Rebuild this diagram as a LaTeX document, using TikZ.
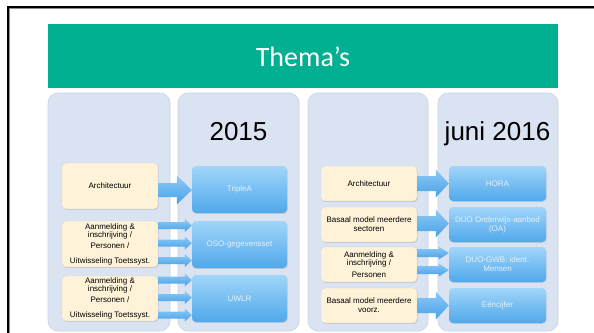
\documentclass[tikz,border=0pt]{standalone}
\usepackage{fontspec}
\setmainfont{Liberation Sans}
\newfontfamily\titlefont{Carlito}
\usetikzlibrary{calc,shadows}
\definecolor{teal1}{RGB}{0,176,144}
\definecolor{colfill}{RGB}{218,227,241}
\definecolor{colline}{RGB}{203,211,225}
\definecolor{beige}{RGB}{254,243,216}
\definecolor{bluetop}{RGB}{160,214,249}
\definecolor{bluebot}{RGB}{80,168,235}
\definecolor{bluetext}{RGB}{228,241,252}
\definecolor{arrtop}{RGB}{140,203,246}
\definecolor{arrbot}{RGB}{72,160,231}
\tikzset{
  column/.style={draw=colline, line width=0.6pt, fill=colfill, rounded corners=10pt, inner sep=0pt},
  srcbox/.style={fill=beige, draw=black!15, line width=0.4pt, rounded corners=4pt, minimum width=96pt,
    inner sep=0pt, align=center, font=\fontsize{8}{8}\selectfont,
    drop shadow={shadow xshift=0.7pt, shadow yshift=-0.9pt, opacity=0.3}},
  tgtbox/.style={top color=bluetop, bottom color=bluebot, rounded corners=4pt, inner sep=0pt,
    align=center, text=bluetext, font=\fontsize{8}{8}\selectfont,
    drop shadow={shadow xshift=0.7pt, shadow yshift=-0.9pt, opacity=0.25}},
  yeartext/.style={font=\fontsize{26}{30}\selectfont, anchor=base, inner sep=0pt},
  arrowshade/.style={top color=arrtop, bottom color=arrbot},
}
% #1 source, #2 target, #3 vertical offset (px, down), #4 shaft half, #5 head half, #6 head length
\newcommand\fatarrow[6]{%
  \path[arrowshade] let \p1=(#1.east), \p2=(#2.west) in
    (\x1,{\y1-(#3)*1pt+(#4)*1pt}) -- ({\x2-(#6)*1pt},{\y1-(#3)*1pt+(#4)*1pt})
    -- ({\x2-(#6)*1pt},{\y1-(#3)*1pt+(#5)*1pt}) -- (\x2,{\y1-(#3)*1pt})
    -- ({\x2-(#6)*1pt},{\y1-(#3)*1pt-(#5)*1pt}) -- ({\x2-(#6)*1pt},{\y1-(#3)*1pt-(#4)*1pt})
    -- (\x1,{\y1-(#3)*1pt-(#4)*1pt}) -- cycle;}
\begin{document}
\begin{tikzpicture}[x=1pt,y=-1pt]
\useasboundingbox (0,0) rectangle (594,332);
\clip (0,0) rectangle (594,332);
\fill[white] (0,0) rectangle (594,332);
% frame
\draw[black!45, line width=1pt] (9.7,340) -- (9.7,8.3) -- (600,8.3);
\draw[black, line width=2pt] (8.2,340) -- (8.2,6.8) -- (600,6.8);
% banner
\node[fill=teal1, minimum width=510pt, minimum height=64pt, inner sep=0pt] (banner) at (303,56) {};
\node[anchor=base, text=white, inner sep=0pt, font=\titlefont\fontsize{28}{30}\selectfont] (title) at (303,66) {Thema’s};
% columns
\node[column, minimum width=122pt, minimum height=238pt] (col1) at (109,212) {};
\node[column, minimum width=121pt, minimum height=238pt] (col2) at (238.5,212) {};
\node[column, minimum width=120pt, minimum height=238pt] (col3) at (368,212) {};
\node[column, minimum width=120pt, minimum height=238pt] (col4) at (498,212) {};
% years
\node[yeartext] (y2015) at (238.5,140) {2015};
\node[yeartext] (y2016) at (497.5,140) {juni 2016};
% left source boxes (2015)
\node[srcbox, minimum height=46pt] (a1) at (110,186) {Architectuur};
\node[srcbox, minimum height=46pt] (b1) at (110,244) {Aanmelding \&\\inschrijving /\\[3pt]Personen /\\[7pt]Uitwisseling Toetssyst.};
\node[srcbox, minimum height=45pt] (c1) at (110,298.5) {Aanmelding \&\\inschrijving /\\[3pt]Personen /\\[7pt]Uitwisseling Toetssyst.};
% target boxes 2015
\node[tgtbox, minimum width=95pt, minimum height=47pt] (t1) at (239.5,189.5) {TripleA};
\node[tgtbox, minimum width=95pt, minimum height=47pt] (t2) at (239.5,244.5) {OSO-gegevensset};
\node[tgtbox, minimum width=95pt, minimum height=47pt] (t3) at (239.5,298.5) {UWLR};
% arrows 2015
\fatarrow{a1}{t1}{4}{7}{14.5}{15}
\fatarrow{b1}{t2}{-18.5}{3.5}{6.5}{7}
\fatarrow{b1}{t2}{-1}{3.5}{6.5}{7}
\fatarrow{b1}{t2}{16.5}{3.5}{6.5}{7}
\fatarrow{c1}{t3}{-18.5}{3.5}{6.5}{7}
\fatarrow{c1}{t3}{-1}{3.5}{6.5}{7}
\fatarrow{c1}{t3}{16.5}{3.5}{6.5}{7}
% right source boxes (juni 2016)
\node[srcbox, minimum height=35pt] (a3) at (369,183.5) {Architectuur};
\node[srcbox, minimum height=35pt] (b3) at (369,224.5) {Basaal model meerdere\\[1pt]sectoren};
\node[srcbox, minimum height=35pt] (c3) at (369,264.5) {Aanmelding \&\\inschrijving /\\[4pt]Personen};
\node[srcbox, minimum height=35pt] (d3) at (369,305.5) {Basaal model meerdere\\[1pt]voorz.};
% target boxes juni 2016
\node[tgtbox, minimum width=97pt, minimum height=35pt] (h4) at (497.5,183.5) {HORA};
\node[tgtbox, minimum width=97pt, minimum height=35pt] (o4) at (497.5,224.5) {DUO Onderwijs-aanbod\\[1pt](OA)};
\node[tgtbox, minimum width=97pt, minimum height=35pt] (g4) at (497.5,264.5) {DUO-GWB: ident.\\[1pt]Mensen};
\node[tgtbox, minimum width=97pt, minimum height=35pt] (e4) at (497.5,305.5) {Eéncijfer};
% arrows juni 2016
\fatarrow{a3}{h4}{0}{7.5}{14}{13}
\fatarrow{b3}{o4}{-1}{7.5}{14}{13}
\fatarrow{c3}{g4}{-11.5}{4}{6.5}{10}
\fatarrow{c3}{g4}{5.5}{4}{6.5}{10}
\fatarrow{d3}{e4}{0}{7.5}{14}{13}
\end{tikzpicture}
\end{document}
